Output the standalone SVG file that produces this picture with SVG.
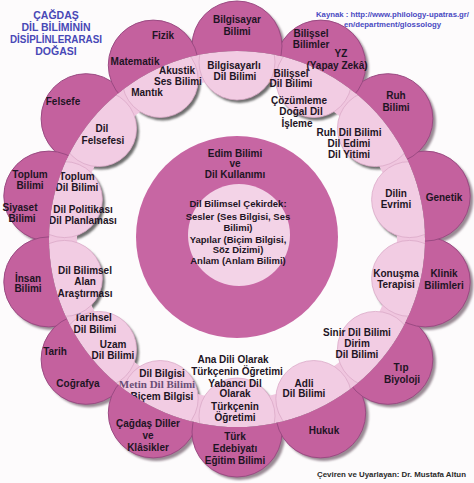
<svg xmlns="http://www.w3.org/2000/svg" width="474" height="483" viewBox="0 0 474 483">
<defs>
<style>
.dk{fill:#c4619e;stroke:#9a4a82;stroke-width:1}
.lt{fill:#f2cce3;stroke:#dba9c8;stroke-width:.8}
.ring{fill:#f0c6df}
.sh{fill:#6e6e6e}
.dsh{fill:#9a8a94}
.t{font-family:"Liberation Sans",Arial,sans-serif;font-weight:bold;font-size:10px;fill:#1e1424;text-anchor:middle}
.c{font-size:9.5px}
.ti{fill:#4848b6;font-size:10.5px}
.src{fill:#4a4ac2;font-size:8px}
.ft{fill:#2a2a2a;font-size:8px}
.sf{font-family:"Liberation Serif","Times New Roman",serif;fill:#6a4e76;font-size:11px}
</style>
<clipPath id="ringClip"><circle cx="237" cy="239" r="188"/></clipPath>
<mask id="outerOnly" maskUnits="userSpaceOnUse" x="0" y="0" width="474" height="483">
<rect width="474" height="483" fill="#fff"/>
<circle cx="237" cy="239" r="188" fill="#000"/>
</mask>
<filter id="blur" x="-20%" y="-20%" width="140%" height="140%"><feGaussianBlur stdDeviation="1.2"/></filter>
</defs>
<rect width="474" height="483" fill="#fdfbfc"/>

<!-- title and credits -->
<g id="title">
<text class="t ti" x="56" y="19">ÇAĞDAŞ</text>
<text class="t ti" x="56" y="31">DİL BİLİMİNİN</text>
<text class="t ti" x="56" y="43" textLength="92" lengthAdjust="spacingAndGlyphs">DİSİPLİNLERARASI</text>
<text class="t ti" x="56" y="55">DOĞASI</text>
</g>
<g id="source">
<text class="t src" x="392.5" y="17" textLength="153" lengthAdjust="spacingAndGlyphs">Kaynak : http://www.philology-upatras.gr/</text>
<text class="t src" x="392.5" y="26.5" textLength="97" lengthAdjust="spacingAndGlyphs">en/department/glossology</text>
</g>
<g id="credit">
<text class="t ft" x="391.5" y="477" textLength="149" lengthAdjust="spacingAndGlyphs">Çeviren ve Uyarlayan: Dr. Mustafa Altun</text>
</g>

<!-- ring of light circles: shadows and annulus -->
<g id="ring" clip-path="url(#ringClip)">
<g filter="url(#blur)" class="sh">
<circle cx="239.5" cy="65" r="38"/>
<circle cx="316.3" cy="82.5" r="38"/>
<circle cx="377.9" cy="131.6" r="38"/>
<circle cx="412.1" cy="202.6" r="38"/>
<circle cx="412.1" cy="281.4" r="38"/>
<circle cx="377.9" cy="352.4" r="38"/>
<circle cx="316.3" cy="401.5" r="38"/>
<circle cx="239.5" cy="419" r="38"/>
<circle cx="162.7" cy="401.5" r="38"/>
<circle cx="101.1" cy="352.4" r="38"/>
<circle cx="66.9" cy="281.4" r="38"/>
<circle cx="66.9" cy="202.6" r="38"/>
<circle cx="101.1" cy="131.6" r="38"/>
<circle cx="162.7" cy="82.5" r="38"/>
</g>
<path class="ring" fill-rule="evenodd" d="M49,239a188,188 0 1,0 376,0a188,188 0 1,0 -376,0ZM77,239a160,160 0 1,0 320,0a160,160 0 1,0 -320,0Z"/>
</g>

<!-- light (inner) nodes -->
<g id="l-bilgisayarli"><circle class="lt" cx="237" cy="62" r="38" clip-path="url(#ringClip)"/>
<text class="t" x="234" y="68.5">Bilgisayarlı</text><text class="t" x="235" y="79.5">Dil Bilimi</text></g>
<g id="l-bilissel"><circle class="lt" cx="313.8" cy="79.5" r="38" clip-path="url(#ringClip)"/>
<text class="t" x="291" y="76.5">Bilişsel</text><text class="t" x="291" y="87">Dil Bilimi</text></g>
<g id="l-ruhdil"><circle class="lt" cx="375.4" cy="128.6" r="38" clip-path="url(#ringClip)"/>
<text class="t" x="349" y="135.5">Ruh Dil Bilimi</text><text class="t" x="349" y="146.5">Dil Edimi</text><text class="t" x="349" y="157.5">Dil Yitimi</text></g>
<g id="l-evrim"><circle class="lt" cx="409.6" cy="199.6" r="38" clip-path="url(#ringClip)"/>
<text class="t" x="396" y="196.5">Dilin</text><text class="t" x="396" y="207.5">Evrimi</text></g>
<g id="l-konusma"><circle class="lt" cx="409.6" cy="278.4" r="38" clip-path="url(#ringClip)"/>
<text class="t" x="396" y="276.5">Konuşma</text><text class="t" x="396" y="287.5">Terapisi</text></g>
<g id="l-sinir"><circle class="lt" cx="375.4" cy="349.4" r="38" clip-path="url(#ringClip)"/>
<text class="t" x="357" y="335.5">Sinir Dil Bilimi</text><text class="t" x="357" y="346.5">Dirim</text><text class="t" x="357" y="357.5">Dil Bilimi</text></g>
<g id="l-adli"><circle class="lt" cx="313.8" cy="398.5" r="38" clip-path="url(#ringClip)"/>
<text class="t" x="304" y="386.5">Adli</text><text class="t" x="304" y="397">Dil Bilimi</text></g>
<g id="l-yabanci"><circle class="lt" cx="237" cy="416" r="38" clip-path="url(#ringClip)"/>
<text class="t" x="235" y="386.5">Yabancı Dil</text><text class="t" x="235" y="397">Olarak</text><text class="t" x="235" y="409.5">Türkçenin</text><text class="t" x="235" y="420.5">Öğretimi</text></g>
<g id="l-dilbilgisi"><circle class="lt" cx="160.2" cy="398.5" r="38" clip-path="url(#ringClip)"/>
<text class="t" x="162" y="376.5">Dil Bilgisi</text><text class="t sf" x="157" y="387.5">Metin Dil Bilimi</text><text class="t" x="162" y="399.5">Biçem Bilgisi</text></g>
<g id="l-tarihsel"><circle class="lt" cx="98.6" cy="349.4" r="38" clip-path="url(#ringClip)"/>
<text class="t" x="93" y="320.5">Tarihsel</text><text class="t" x="95" y="332.5">Dil Bilimi</text><text class="t" x="113" y="347.5">Uzam</text><text class="t" x="113" y="358.5">Dil Bilimi</text></g>
<g id="l-alan"><circle class="lt" cx="64.4" cy="278.4" r="38" clip-path="url(#ringClip)"/>
<text class="t" x="85" y="273.5">Dil Bilimsel</text><text class="t" x="85" y="284.5">Alan</text><text class="t" x="85" y="296.5">Araştırması</text></g>
<g id="l-toplumdil"><circle class="lt" cx="64.4" cy="199.6" r="38" clip-path="url(#ringClip)"/>
<text class="t" x="77" y="179.5">Toplum</text><text class="t" x="77" y="190.5">Dil Bilimi</text><text class="t" x="83" y="212.5">Dil Politikası</text><text class="t" x="83" y="223.5">Dil Planlaması</text></g>
<g id="l-felsefesi"><circle class="lt" cx="98.6" cy="128.6" r="38" clip-path="url(#ringClip)"/>
<text class="t" x="102" y="131.5">Dil</text><text class="t" x="103" y="143.5">Felsefesi</text></g>
<g id="l-akustik"><circle class="lt" cx="160.2" cy="79.5" r="38" clip-path="url(#ringClip)"/>
<text class="t" x="177" y="73.5">Akustik</text><text class="t" x="178" y="84.5">Ses Bilimi</text></g>
<g id="l-mantik"><text class="t" x="147" y="95.5">Mantık</text></g>
<g id="l-cozumleme"><text class="t" x="299" y="103.5">Çözümleme</text><text class="t" x="301" y="114.5">Doğal Dil</text><text class="t" x="297" y="126.5">İşleme</text></g>
<g id="l-anadili"><text class="t" x="233" y="362.5">Ana Dili Olarak</text><text class="t" x="237" y="374.5">Türkçenin Öğretimi</text></g>

<!-- outer dark node shadows -->
<g id="outer-shadows" class="dsh" filter="url(#blur)" mask="url(#outerOnly)">
<circle cx="240" cy="49" r="45"/><circle cx="323.7" cy="68.1" r="45"/><circle cx="390.9" cy="121.7" r="45"/>
<circle cx="428.2" cy="199.1" r="45"/><circle cx="428.2" cy="284.9" r="45"/><circle cx="390.9" cy="362.3" r="45"/>
<circle cx="323.7" cy="415.9" r="45"/><circle cx="240" cy="435" r="45"/><circle cx="156.3" cy="415.9" r="45"/>
<circle cx="89.1" cy="362.3" r="45"/><circle cx="51.8" cy="284.9" r="45"/><circle cx="51.8" cy="199.1" r="45"/>
<circle cx="89.1" cy="121.7" r="45"/><circle cx="156.3" cy="68.1" r="45"/>
</g>

<!-- outer dark nodes -->
<g id="n-felsefe"><circle class="dk" cx="86.1" cy="118.7" r="45" mask="url(#outerOnly)"/><text class="t" x="63" y="104.5">Felsefe</text></g>
<g id="n-toplum"><circle class="dk" cx="48.8" cy="196.1" r="45" mask="url(#outerOnly)"/>
<text class="t" x="30" y="177.5">Toplum</text><text class="t" x="30" y="188.5">Bilimi</text><text class="t" x="20" y="210.5">Siyaset</text><text class="t" x="22" y="221.5">Bilimi</text></g>
<g id="n-insan"><circle class="dk" cx="48.8" cy="281.9" r="45" mask="url(#outerOnly)"/>
<text class="t" x="28" y="281.5">İnsan</text><text class="t" x="28" y="292">Bilimi</text></g>
<g id="n-tarih"><circle class="dk" cx="86.1" cy="359.3" r="45" mask="url(#outerOnly)"/>
<text class="t" x="55" y="354.5">Tarih</text><text class="t" x="78" y="386.5">Coğrafya</text></g>
<g id="n-cagdas"><circle class="dk" cx="153.3" cy="412.9" r="45" mask="url(#outerOnly)"/>
<text class="t" x="148" y="426.5">Çağdaş Diller</text><text class="t" x="148" y="439">ve</text><text class="t" x="148" y="450.5">Klâsikler</text></g>
<g id="n-turk"><circle class="dk" cx="237" cy="432" r="45" mask="url(#outerOnly)"/>
<text class="t" x="235" y="439.5">Türk</text><text class="t" x="235" y="451.5">Edebiyatı</text><text class="t" x="235" y="463.5">Eğitim Bilimi</text></g>
<g id="n-hukuk"><circle class="dk" cx="320.7" cy="412.9" r="45" mask="url(#outerOnly)"/>
<text class="t" x="324" y="433.5">Hukuk</text></g>
<g id="n-tip"><circle class="dk" cx="387.9" cy="359.3" r="45" mask="url(#outerOnly)"/>
<text class="t" x="401" y="370.5">Tıp</text><text class="t" x="402" y="382.5">Biyoloji</text></g>
<g id="n-klinik"><circle class="dk" cx="425.2" cy="281.9" r="45" mask="url(#outerOnly)"/>
<text class="t" x="444" y="276.5">Klinik</text><text class="t" x="444" y="288.5">Bilimleri</text></g>
<g id="n-genetik"><circle class="dk" cx="425.2" cy="196.1" r="45" mask="url(#outerOnly)"/>
<text class="t" x="444" y="200.5">Genetik</text></g>
<g id="n-ruh"><circle class="dk" cx="387.9" cy="118.7" r="45" mask="url(#outerOnly)"/>
<text class="t" x="396" y="99">Ruh</text><text class="t" x="396" y="110.5">Bilimi</text></g>
<g id="n-bilissel"><circle class="dk" cx="320.7" cy="65.1" r="45" mask="url(#outerOnly)"/>
<text class="t" x="311" y="37">Bilişsel</text><text class="t" x="311" y="47.5">Bilimler</text><text class="t" x="341" y="57">YZ</text><text class="t" x="337" y="68.5">(Yapay Zekâ)</text></g>
<g id="n-bilgisayar"><circle class="dk" cx="237" cy="46" r="45" mask="url(#outerOnly)"/>
<text class="t" x="237" y="22.5">Bilgisayar</text><text class="t" x="237" y="34.5">Bilimi</text></g>
<g id="n-fizik"><circle class="dk" cx="153.3" cy="65.1" r="45" mask="url(#outerOnly)"/>
<text class="t" x="163" y="38.5">Fizik</text><text class="t" x="135" y="64.5">Matematik</text></g>

<!-- central nodes -->
<g id="n-edim"><circle cx="237" cy="237" r="101" fill="#c766a3"/>
<text class="t" x="235" y="156.5">Edim Bilimi</text><text class="t" x="235" y="166.5">ve</text><text class="t" x="235" y="177.5">Dil Kullanımı</text></g>
<g id="n-cekirdek"><circle cx="239" cy="235" r="51" fill="#f3d3e7"/>
<text class="t c" x="238" y="206.5">Dil Bilimsel Çekirdek:</text>
<text class="t c" x="238" y="219.5">Sesler (Ses Bilgisi, Ses</text>
<text class="t c" x="238" y="230.5">Bilimi)</text>
<text class="t c" x="238" y="242.5">Yapılar (Biçim Bilgisi,</text>
<text class="t c" x="238" y="252.5">Söz Dizimi)</text>
<text class="t c" x="238" y="263.5">Anlam (Anlam Bilimi)</text></g>

<g id="connectors"/>
</svg>
